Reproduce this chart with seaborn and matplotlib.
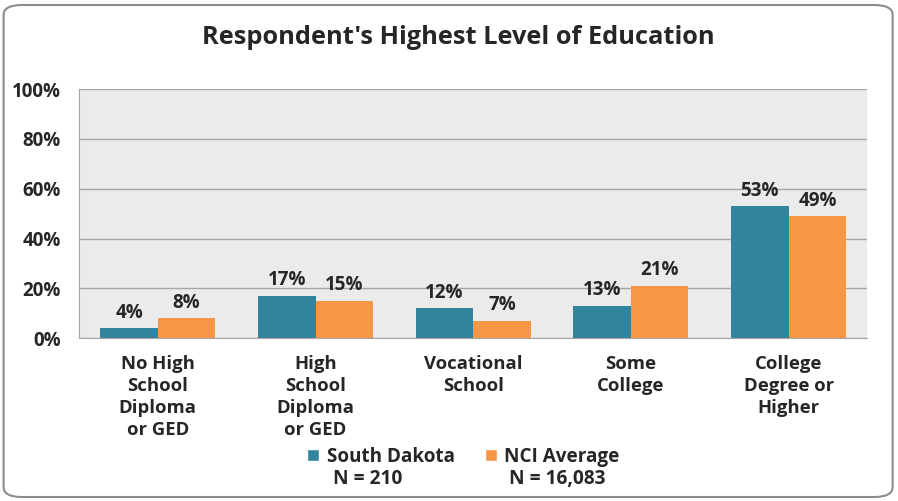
import matplotlib
matplotlib.use("Agg")
import matplotlib.pyplot as plt
import pandas as pd
import seaborn as sns
from matplotlib.patches import FancyBboxPatch, Patch

# data
categories = ["No High\nSchool\nDiploma\nor GED", "High\nSchool\nDiploma\nor GED",
              "Vocational\nSchool", "Some\nCollege", "College\nDegree or\nHigher"]
south_dakota = [4, 17, 12, 13, 53]
nci_average = [8, 15, 7, 21, 49]
series_names = ["South Dakota", "NCI Average"]
series_n = ["N = 210", "N = 16,083"]
colors = ["#31849b", "#f79646"]

df = pd.DataFrame({
    "Category": categories * 2,
    "Series": [series_names[0]] * 5 + [series_names[1]] * 5,
    "Value": south_dakota + nci_average,
})

sns.set_style("white")
plt.rcParams["font.family"] = ["Open Sans", "DejaVu Sans"]
plt.rcParams["font.weight"] = "bold"

fig = plt.figure(figsize=(8.98, 5.01), dpi=100)
ax = fig.add_axes([0.088, 0.325, 0.878, 0.497])

sns.barplot(data=df, x="Category", y="Value", hue="Series", palette=colors,
            width=0.73, gap=0, ax=ax, legend=False, saturation=1, linewidth=0)

ax.set_facecolor("#ebebeb")
ax.set_ylim(0, 100)
ax.set_xlim(-0.5, 4.5)
ax.set_yticks(range(0, 101, 20))
ax.set_yticklabels([f"{v}%" for v in range(0, 101, 20)], fontsize=13.5, fontweight="bold")
ax.yaxis.grid(True, color="#a6a6a6", linewidth=1)
ax.set_axisbelow(True)
ax.set_xlabel("")
ax.set_ylabel("")
ax.tick_params(axis="x", length=0, pad=12)
ax.set_xticks(range(5))
ax.set_xticklabels(categories, fontsize=13.3, fontweight="bold", linespacing=1.3)
ax.set_xticks([i - 0.5 for i in range(6)], minor=True)
ax.tick_params(axis="x", which="minor", length=5, color="#a6a6a6", direction="out")
ax.tick_params(axis="y", length=5, color="#a6a6a6", pad=8)
for s in ["top", "right"]:
    ax.spines[s].set_visible(False)
for s in ["left", "bottom"]:
    ax.spines[s].set_color("#a6a6a6")

for cont in ax.containers:
    ax.bar_label(cont, fmt="%d%%", fontsize=13.5, fontweight="bold", padding=4)

fig.suptitle("Respondent's Highest Level of Education", x=0.51, y=0.95,
             fontsize=18.3, fontweight="bold")

handles = [Patch(facecolor=c) for c in colors]
fig.legend(handles, series_names, loc="center", bbox_to_anchor=(0.516, 0.088),
           ncol=2, frameon=False, fontsize=13.6, handlelength=0.63, handleheight=0.63,
           handletextpad=0.4, columnspacing=1.6)
fig.text(0.409, 0.043, series_n[0], ha="center", va="center", fontsize=13.8, fontweight="bold")
fig.text(0.621, 0.043, series_n[1], ha="center", va="center", fontsize=13.8, fontweight="bold")

border = FancyBboxPatch((0.004, 0.008), 0.99, 0.982, boxstyle="round,pad=0,rounding_size=0.02",
                        transform=fig.transFigure, facecolor="none", edgecolor="#8c8c8c",
                        linewidth=1.5)
fig.patches.append(border)

fig.savefig("out.png", dpi=100)
